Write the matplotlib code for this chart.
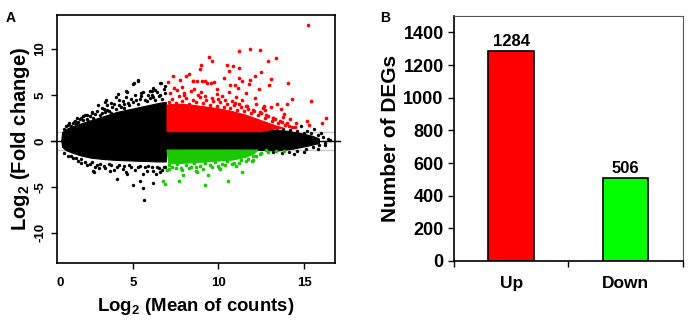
import matplotlib
matplotlib.use("Agg")
import matplotlib.pyplot as plt

plt.rcParams['font.family'] = ['Liberation Sans', 'DejaVu Sans']
plt.rcParams['font.weight'] = 'bold'
plt.rcParams['mathtext.fontset'] = 'custom'
plt.rcParams['mathtext.bf'] = 'Liberation Sans:bold'
plt.rcParams['mathtext.rm'] = 'Liberation Sans:bold'

# ---- panel A: MA plot ----
# dense black band outline (log2 mean, log2 FC)
black_band_x = [0.85, 0.9, 1.2, 1.6, 2.1, 2.6, 3.1, 3.6, 4.1, 4.6, 5.1, 5.6, 6.1, 6.6, 6.95, 7.0,
                12.5, 13.2, 14.0, 14.8, 15.5, 15.9, 15.9, 15.2, 14.4, 13.5, 12.5, 7.0, 6.95, 6.4,
                5.8, 5.0, 4.2, 3.4, 2.6, 2.0, 1.5, 1.1, 0.9]
black_band_y = [0.0, 0.9, 1.3, 1.6, 1.9, 2.2, 2.5, 2.8, 3.1, 3.3, 3.5, 3.7, 3.9, 4.1, 4.2, 1.0,
                1.0, 1.15, 1.05, 0.8, 0.5, 0.2, -0.3, -0.6, -0.9, -1.1, -1.05, -1.0, -2.3, -2.3,
                -2.25, -2.2, -2.15, -2.05, -1.9, -1.65, -1.35, -1.05, -0.7]
# dense up-regulated (red) and down-regulated (green) areas
red_area_x = [7.0, 7.0, 7.6, 8.4, 9.2, 10.0, 10.8, 11.6, 12.2, 12.8, 13.4, 13.8, 13.0, 12.5]
red_area_y = [1.0, 3.9, 4.0, 3.9, 3.7, 3.5, 3.2, 2.8, 2.4, 2.0, 1.6, 1.4, 1.2, 1.0]
green_area_x = [7.0, 12.3, 12.1, 11.6, 10.8, 10.0, 9.2, 8.4, 7.6, 7.1]
green_area_y = [-1.0, -1.0, -1.4, -1.8, -2.1, -2.2, -2.3, -2.4, -2.5, -2.5]

# individual genes outside the dense areas
black_x = [5.29, 5.0, 4.65, 4.13, 3.40, 3.70, 3.99, 6.01, 6.2, 6.65, 5.49, 2.63, 2.08, 1.56, 5.33, 5.04,
           4.59, 6.6, 6.32, 6.11, 3.44, 2.94, 2.32, 1.73,
           1.5, 1.8, 2.3, 2.5, 2.8, 3.2, 3.3, 3.6, 3.8, 4.2, 4.4, 4.7, 4.9, 5.2, 5.5, 5.7, 5.9, 6.2,
           6.4, 6.6, 6.8, 2.0, 1.2, 3.5, 4.5,
           1.0, 1.1, 1.3, 1.4, 1.6, 1.7, 1.9, 2.1, 2.2, 2.4, 2.6, 2.7, 2.9, 3.1, 3.2, 3.4, 3.5, 3.7,
           3.9, 4.0, 4.2, 4.3, 4.5, 4.6, 4.8, 5.0, 5.1, 5.3, 5.4, 5.6, 5.8, 6.0, 6.1, 6.3, 6.5, 6.7,
           6.9, 6.9,
           2.70, 4.09, 5.0, 5.43, 5.62, 5.68, 6.17, 6.36, 4.65, 3.64, 1.98, 2.74,
           1.4, 1.7, 2.2, 2.5, 2.9, 3.3, 3.7, 4.1, 4.5, 4.9, 5.3, 5.7, 6.1, 6.5, 6.8, 3.0, 4.4, 5.8, 6.6,
           1.0, 1.2, 1.5, 1.8, 2.0, 2.3, 2.6, 2.8, 3.1, 3.4, 3.6, 3.9, 4.2, 4.6, 4.8, 5.1, 5.4, 5.6,
           5.9, 6.2, 6.4, 6.7, 6.9,
           13.0, 13.4, 13.8, 14.2, 14.6, 15.0, 15.4, 15.8, 16.1, 13.2, 13.7, 14.1, 14.6, 15.1, 15.5,
           15.9, 16.2, 16.5,
           14.8, 15.2, 15.6, 16.0, 16.2, 14.4, 15.0, 15.8, 13.9, 16.4]
black_y = [6.55, 6.2, 5.36, 5.1, 4.27, 4.17, 4.75, 5.47, 5.72, 6.34, 5.18, 3.19, 2.72, 2.1, 6.63, 6.34,
           5.47, 6.34, 5.54, 5.0, 4.46, 3.91, 2.83, 2.47,
           1.9, 2.1, 2.4, 2.7, 2.9, 3.0, 3.5, 3.2, 3.7, 3.9, 4.3, 4.1, 4.6, 4.4, 4.9, 4.5, 5.0, 4.8,
           5.3, 5.0, 5.6, 2.5, 1.7, 3.9, 3.6,
           1.3, 1.6, 1.9, 1.6, 2.2, 1.8, 2.4, 2.3, 2.8, 2.2, 3.0, 2.5, 3.2, 2.8, 3.6, 3.1, 3.4, 3.0,
           4.0, 3.5, 4.4, 3.7, 4.0, 4.8, 3.9, 4.2, 5.0, 4.0, 4.6, 5.3, 4.3, 4.7, 5.4, 4.5, 4.9, 4.6,
           5.2, 6.0,
           -3.33, -4.17, -4.86, -4.42, -5.15, -6.49, -4.6, -3.62, -3.62, -3.33, -2.43, -3.44,
           -1.6, -1.9, -2.3, -2.5, -2.6, -2.7, -2.6, -2.8, -2.7, -2.9, -2.8, -2.9, -2.9, -3.0, -2.9,
           -3.0, -3.1, -3.3, -3.4,
           -1.3, -1.6, -1.9, -2.2, -2.0, -2.6, -2.3, -2.9, -2.5, -3.0, -2.5, -3.2, -2.6, -3.4, -2.6,
           -3.2, -2.7, -3.6, -2.7, -3.3, -2.8, -3.2, -2.8,
           1.3, 1.4, 1.3, 1.2, 1.1, 0.9, 0.8, 0.6, 0.4, -1.2, -1.3, -1.2, -1.1, -0.9, -0.7,
           -0.5, -0.2, 0.1,
           1.6, 1.1, 1.3, 0.9, -0.5, -1.4, -1.2, -0.9, 1.7, 0.2]
red_x = [15.22, 11.21, 11.85, 12.45, 9.42, 9.65, 12.88, 13.37, 9.01, 8.93, 10.51, 10.84, 11.19, 10.59,
         12.51, 8.29, 8.11, 10.31, 11.21, 12.16, 11.87, 13.08, 8.50, 8.76, 9.05, 9.32, 9.75, 10.96,
         11.79, 11.13, 12.94, 14.09, 12.38, 10.61, 11.60, 12.16, 14.32, 15.39, 10.97, 11.66, 13.43,
         14.01, 12.69, 13.06, 13.66, 13.84, 14.19, 14.54, 15.16, 16.27, 16.07, 15.28, 14.48, 13.21,
         12.73, 7.36, 7.76, 7.08, 8.54, 7.90, 9.22, 9.55, 9.92, 10.66, 11.40,
         7.2, 7.6, 8.0, 8.4, 8.8, 9.2, 9.6, 10.0, 10.4, 10.8, 11.2, 11.6, 12.0, 12.4, 12.8, 13.2,
         13.6, 14.0, 7.4, 8.6, 9.9, 11.0, 12.2,
         7.1, 7.3, 7.5, 7.7, 7.9, 8.1, 8.3, 8.5, 8.7, 8.9, 9.1, 9.3, 9.5, 9.7, 9.9, 10.1, 10.3,
         10.5, 10.7, 10.9, 11.1, 11.3, 11.5, 11.7, 11.9, 12.1, 12.3, 12.5, 12.7, 12.9, 13.1, 13.3,
         13.5, 13.7, 13.9, 14.1, 14.3, 7.2, 8.0, 9.0, 10.2, 11.4, 12.6, 13.8]
red_y = [12.64, 9.78, 9.96, 9.85, 9.10, 8.66, 8.73, 9.02, 8.26, 7.83, 8.26, 8.15, 7.97, 7.64,
         7.53, 7.28, 7.07, 6.81, 6.81, 7.07, 6.66, 6.70, 6.52, 6.55, 6.52, 6.27, 6.38, 6.09,
         6.16, 5.79, 6.09, 6.27, 5.65, 5.29, 5.18, 4.64, 4.60, 4.35, 4.10, 3.84, 3.99,
         3.99, 3.84, 3.73, 3.45, 2.93, 2.39, 1.99, 2.17, 2.53, 1.92, 1.74, 1.55, 2.47,
         3.37, 7.07, 6.63, 6.45, 6.49, 5.84, 6.52, 6.34, 5.62, 6.09, 6.55,
         5.2, 5.5, 5.2, 5.4, 5.0, 4.9, 4.7, 4.6, 4.4, 4.3, 4.0, 3.8, 3.4, 3.1, 2.8, 2.5,
         2.2, 1.9, 5.8, 5.7, 5.1, 4.8, 4.0,
         4.2, 4.6, 4.1, 4.9, 4.3, 4.7, 4.0, 4.5, 4.2, 4.8, 4.1, 4.4, 3.9, 4.3, 3.8, 4.2, 3.7,
         4.0, 3.6, 3.9, 3.4, 3.7, 3.2, 3.5, 3.0, 3.3, 2.8, 3.0, 2.5, 2.7, 2.2, 2.4,
         1.9, 2.1, 1.7, 1.6, 1.5, 3.9, 5.0, 5.3, 4.9, 4.4, 3.6, 2.6]
green_x = [6.79, 6.85, 7.72, 7.92, 9.24, 10.58, 9.38, 10.06, 11.03, 12.01, 12.78, 13.37, 13.85,
           8.70, 7.0, 8.77, 10.1, 11.4, 11.95,
           7.1, 7.5, 7.9, 8.3, 8.7, 9.1, 9.6, 10.0, 10.4, 10.8, 11.2, 11.6, 12.2, 12.5,
           7.1, 7.3, 7.6, 7.8, 8.1, 8.4, 8.6, 8.9, 9.2, 9.5, 9.8, 10.2, 10.5, 10.9, 11.3, 11.7,
           12.0, 12.4, 12.9]
green_y = [-4.42, -4.71, -4.35, -3.7, -4.78, -4.42, -3.7, -2.97, -2.79, -2.07, -0.98, -1.09, -1.16,
           -3.33, -3.15, -3.44, -3.08, -3.44, -2.25,
           -3.1, -3.0, -3.2, -3.0, -2.9, -3.1, -2.8, -2.7, -2.6, -2.5, -2.4, -2.2, -1.6, -1.3,
           -2.6, -2.9, -2.5, -3.0, -2.6, -2.8, -2.4, -2.7, -2.4, -2.6, -2.3, -2.5, -2.2, -2.4,
           -2.1, -2.0, -1.7, -1.4, -1.2]

# ---- panel B: DEG counts ----
deg_labels = ['Up', 'Down']
deg_counts = [1284, 506]

red = '#ff0000'
green_ma = '#19c800'
green_bar = '#00ff00'

fig = plt.figure(figsize=(6.89, 3.21), dpi=100)

# panel A
ax1 = fig.add_axes([0.0827, 0.181, 0.4033, 0.772])
ax1.axhline(1, color='#cccccc', lw=1.0, zorder=1)
ax1.axhline(-1, color='#cccccc', lw=1.0, zorder=1)
ax1.fill(black_band_x, black_band_y, color='black', lw=0.8, ec='black', zorder=2)
ax1.scatter(black_x, black_y, s=6, c='black', lw=0, zorder=2)
ax1.fill(red_area_x, red_area_y, color=red, lw=0.8, ec=red, zorder=3)
ax1.scatter(red_x, red_y, s=7, c=red, lw=0, zorder=3)
ax1.fill(green_area_x, green_area_y, color=green_ma, lw=0.8, ec=green_ma, zorder=3)
ax1.scatter(green_x, green_y, s=7, c=green_ma, lw=0, zorder=3)
ax1.axhline(0, xmin=-0.02, xmax=1.02, color='black', lw=1.0, zorder=4, clip_on=False)
ax1.set_xlim(0.57, 16.8)
ax1.set_ylim(-13.3, 13.7)
ax1.set_xticks([0.77, 5, 10, 15])
ax1.set_xticklabels(['0', '5', '10', '15'])
ax1.xaxis.get_major_ticks()[0].tick1line.set_visible(False)
ax1.set_yticks([-10, -5, 0, 5, 10])
ax1.set_yticklabels(['-10', '-5', '0', '5', '10'], rotation=90, va='center')
ax1.tick_params(labelsize=9.5, length=4, width=1)
ax1.tick_params(axis='x', pad=6)
ax1.set_xlabel(r'Log$_\mathbf{2}$ (Mean of counts)', fontsize=13.4, fontweight='bold', labelpad=5)
ax1.set_ylabel(r'Log$_\mathbf{2}$ (Fold change)', fontsize=14.5, fontweight='bold', labelpad=2)
for sp in ax1.spines.values():
    sp.set_linewidth(1.2)
fig.text(0.008, 0.965, 'A', fontsize=10, fontweight='bold', va='top')

# panel B
ax2 = fig.add_axes([0.659, 0.187, 0.332, 0.763])
bars = ax2.bar([0.5, 1.5], deg_counts, width=0.4, color=[red, green_bar], edgecolor='black', lw=1.2)
for x, v in zip([0.5, 1.5], deg_counts):
    ax2.text(x, v + 15, str(v), ha='center', va='bottom', fontsize=12, fontweight='bold')
ax2.set_xlim(0, 2)
ax2.set_ylim(0, 1500)
ax2.set_yticks(range(0, 1401, 200))
ax2.set_xticks([0, 1, 2])
ax2.set_xticklabels(['', '', ''])
ax2.set_xticks([0.5, 1.5], minor=True)
ax2.set_xticklabels(deg_labels, minor=True)
ax2.tick_params(axis='x', which='minor', length=0, labelsize=12.5, pad=11)
ax2.tick_params(axis='both', which='major', labelsize=13, length=4, width=1)
ax2.set_ylabel('Number of DEGs', fontsize=15, fontweight='bold', labelpad=2)
ax2.spines['left'].set_linewidth(1.2)
ax2.spines['bottom'].set_linewidth(1.2)
for s in ['top', 'right']:
    ax2.spines[s].set_color('#555555')
    ax2.spines[s].set_linewidth(0.8)
fig.text(0.552, 0.965, 'B', fontsize=10, fontweight='bold', va='top')

fig.savefig('out.png', dpi=100)
